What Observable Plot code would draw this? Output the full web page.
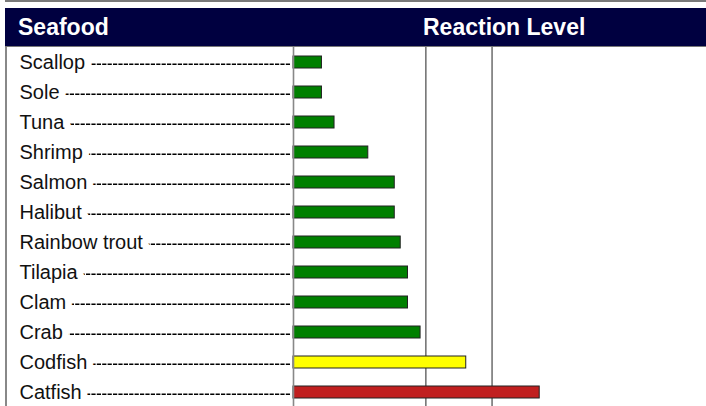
<!DOCTYPE html>
<html>
<head>
<meta charset="utf-8">
<script src="https://cdn.jsdelivr.net/npm/d3@7"></script>
<script src="https://cdn.jsdelivr.net/npm/@observablehq/plot@0.6"></script>
<style>
  html, body { margin: 0; padding: 0; background: #fff; width: 706px; height: 406px; overflow: hidden; }
  body { position: relative; font-family: "Liberation Sans", Arial, Helvetica, sans-serif; }
  #strip { position: absolute; left: 5px; top: 0; width: 701px; height: 2px; background: #7a7a7a; }
  #header { position: absolute; left: 5px; top: 8px; width: 701px; height: 38px; background: #000040;
            border-bottom: 1px solid #777; color: #fff; font-weight: bold; font-size: 23px; }
  #header span { position: absolute; top: 50%; transform: translateY(-50%); line-height: 1; }
  #chart { position: absolute; left: 0; top: 47px; }
  #lborder { position: absolute; left: 5px; top: 47px; width: 2px; height: 359px; background: #888; }
</style>
</head>
<body>
<div id="strip"></div>
<div id="header"><span style="left:13px">Seafood</span><span style="left:418px">Reaction Level</span></div>
<div id="chart"></div>
<div id="lborder"></div>
<script>
const seafood = ["Scallop", "Sole", "Tuna", "Shrimp", "Salmon", "Halibut", "Rainbow trout", "Tilapia", "Clam", "Crab", "Codfish", "Catfish"];
const reaction = [0.43, 0.43, 0.62, 1.13, 1.53, 1.53, 1.62, 1.73, 1.73, 1.92, 2.61, 3.72];
const level = ["low", "low", "low", "low", "low", "low", "low", "low", "low", "low", "medium", "high"];
const thresholds = [2, 3];
const levelNames = ["low", "medium", "high"];
const levelColors = ["#008000", "#ffff00", "#c01f1f"];

const data = seafood.map((name, i) => ({name, value: reaction[i], level: level[i]}));

const plot = Plot.plot({
  width: 706,
  height: 359,
  marginLeft: 293,
  marginRight: 0,
  marginTop: -1,
  marginBottom: -1,
  style: {fontFamily: '"Liberation Sans", Arial, Helvetica, sans-serif', background: "transparent"},
  x: {domain: [0, 6.24], axis: null},
  y: {domain: seafood, padding: 0, axis: null},
  color: {domain: levelNames, range: levelColors},
  marks: [
    Plot.ruleX(thresholds, {stroke: "#555", strokeWidth: 1.3}),
    Plot.axisY({label: null, tickSize: 268, tickPadding: 0, tickFormat: () => "", stroke: "#000", strokeWidth: 1.6,
                strokeDasharray: "4.2,1.2", strokeOpacity: 1, dx: -3, dy: 1.8}),
    Plot.text(seafood, {y: d => d, frameAnchor: "left", textAnchor: "start", dx: -274, fontSize: 20,
                        fill: "#111", stroke: "white", strokeWidth: 14}),
    Plot.barX(data, {y: "name", x: "value", fill: "level", stroke: "#222", strokeWidth: 1,
                     insetTop: 9, insetBottom: 9}),
    Plot.ruleX([0], {stroke: "#888", strokeWidth: 1.6})
  ]
});
document.getElementById("chart").appendChild(plot);
</script>
</body>
</html>
